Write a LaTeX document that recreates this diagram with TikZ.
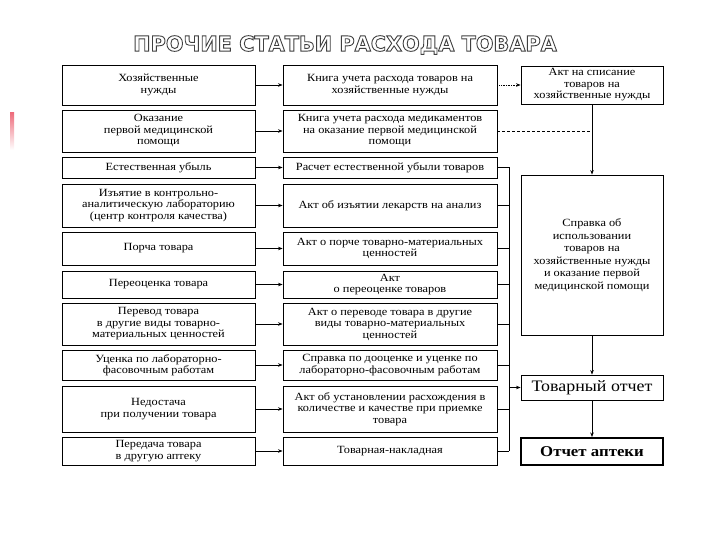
\documentclass[tikz,border=0pt]{standalone}
\usepackage{fontspec}
\setmainfont[FakeStretch=1.12]{Liberation Serif}
\newfontfamily\titlefont{DejaVu Sans}
\usetikzlibrary{arrows.meta}
\definecolor{barred}{RGB}{238,110,125}
\newcommand{\outlinetext}[1]{\special{pdf:literal direct 2 Tr 0.9 w 0.25 0.25 0.25 RG 1 1 1 rg}#1\special{pdf:literal direct 0 Tr}}
\begin{document}
\begin{tikzpicture}[x=1pt,y=-1pt,
  box/.style={draw, line width=0.9pt, align=center, inner sep=1pt,
    font=\fontsize{11}{11.5}\selectfont},
  lbox/.style={box, minimum width=193pt},
  mbox/.style={box, minimum width=214pt},
  rbox/.style={box, minimum width=142pt},
  arr/.style={-{Stealth[length=4.5pt,width=3.5pt]}, line width=0.7pt},
  ln/.style={line width=0.7pt},
  ttl/.style={font=\titlefont\bfseries\fontsize{20.8}{20.8}\selectfont}]
\useasboundingbox (0,0) rectangle (720,540);
% title
\node[ttl] (title) at (345,45) {\outlinetext{ПРОЧИЕ СТАТЬИ РАСХОДА ТОВАРА}};
% red bar
\shade[top color=barred, bottom color=white] (10,113) rectangle (14,150);
% left column
\node[lbox, minimum height=40pt] (l1) at (158.5,85) {Хозяйственные\\нужды};
\node[lbox, minimum height=42pt] (l2) at (158.5,131) {Оказание\\первой медицинской\\помощи};
\node[lbox, minimum height=21pt] (l3) at (158.5,167.5) {Естественная убыль};
\node[lbox, minimum height=43pt] (l4) at (158.5,205.5) {Изъятие в контрольно-\\аналитическую лабораторию\\(центр контроля качества)};
\node[lbox, minimum height=33pt] (l5) at (158.5,248.5) {Порча товара};
\node[lbox, minimum height=27pt] (l6) at (158.5,284.5) {Переоценка товара};
\node[lbox, minimum height=42pt] (l7) at (158.5,324) {Перевод товара\\в другие виды товарно-\\материальных ценностей};
\node[lbox, minimum height=30pt] (l8) at (158.5,365) {Уценка по лабораторно-\\фасовочным работам};
\node[lbox, minimum height=46pt] (l9) at (158.5,409) {Недостача\\при получении товара};
\node[lbox, minimum height=28pt] (l10) at (158.5,451) {Передача товара\\в другую аптеку};
% middle column
\node[mbox, minimum height=40pt] (m1) at (390,85) {Книга учета расхода товаров на\\хозяйственные нужды};
\node[mbox, minimum height=42pt] (m2) at (390,131) {Книга учета расхода медикаментов\\на оказание первой медицинской\\помощи};
\node[mbox, minimum height=21pt] (m3) at (390,167.5) {Расчет естественной убыли товаров};
\node[mbox, minimum height=43pt] (m4) at (390,205.5) {Акт об изъятии лекарств на анализ};
\node[mbox, minimum height=33pt] (m5) at (390,248.5) {Акт о порче товарно-материальных\\ценностей};
\node[mbox, minimum height=27pt] (m6) at (390,284.5) {Акт\\о переоценке товаров};
\node[mbox, minimum height=42pt] (m7) at (390,324) {Акт о переводе товара в другие\\виды товарно-материальных\\ценностей};
\node[mbox, minimum height=30pt] (m8) at (390,365) {Справка по дооценке и уценке по\\лабораторно-фасовочным работам};
\node[mbox, minimum height=46pt] (m9) at (390,409) {Акт об установлении расхождения в\\количестве и качестве при приемке\\товара};
\node[mbox, minimum height=28pt] (m10) at (390,451) {Товарная-накладная};
% right column
\node[rbox, minimum height=38pt] (r1) at (592,85) {Акт на списание\\товаров на\\хозяйственные нужды};
\node[rbox, minimum height=160pt, font=\fontsize{11}{12.5}\selectfont] (r2) at (592,255) {Справка об\\использовании\\товаров на\\хозяйственные нужды\\и оказание первой\\медицинской помощи};
\node[rbox, minimum height=25pt, font=\fontsize{16}{16}\selectfont] (r3) at (592,387.5) {Товарный отчет};
\node[rbox, minimum height=27pt, line width=2pt, font=\bfseries\fontsize{15}{15}\selectfont] (r4) at (592,451.5) {Отчет аптеки};
% left -> middle arrows
\foreach \i in {1,...,10} \draw[arr] (l\i.east) -- (m\i.east -| m\i.west);
% middle -> right
\draw[arr, densely dotted] (m1.east) -- (r1.west);
\draw[ln, densely dashed] (m2.east) -- (m2.east -| r1.south);
\draw[arr] (r1.south) -- (r2.north);
\coordinate (bus) at (509,0);
\foreach \i in {3,...,10} \draw[ln] (m\i.east) -- (m\i.east -| bus);
\draw[ln] (bus |- m3.east) -- (bus |- m10.east);
\draw[arr] (bus |- r3.west) -- (r3.west);
\draw[arr] (r2.south) -- (r3.north);
\draw[arr] (r3.south) -- (r4.north);
\end{tikzpicture}
\end{document}
